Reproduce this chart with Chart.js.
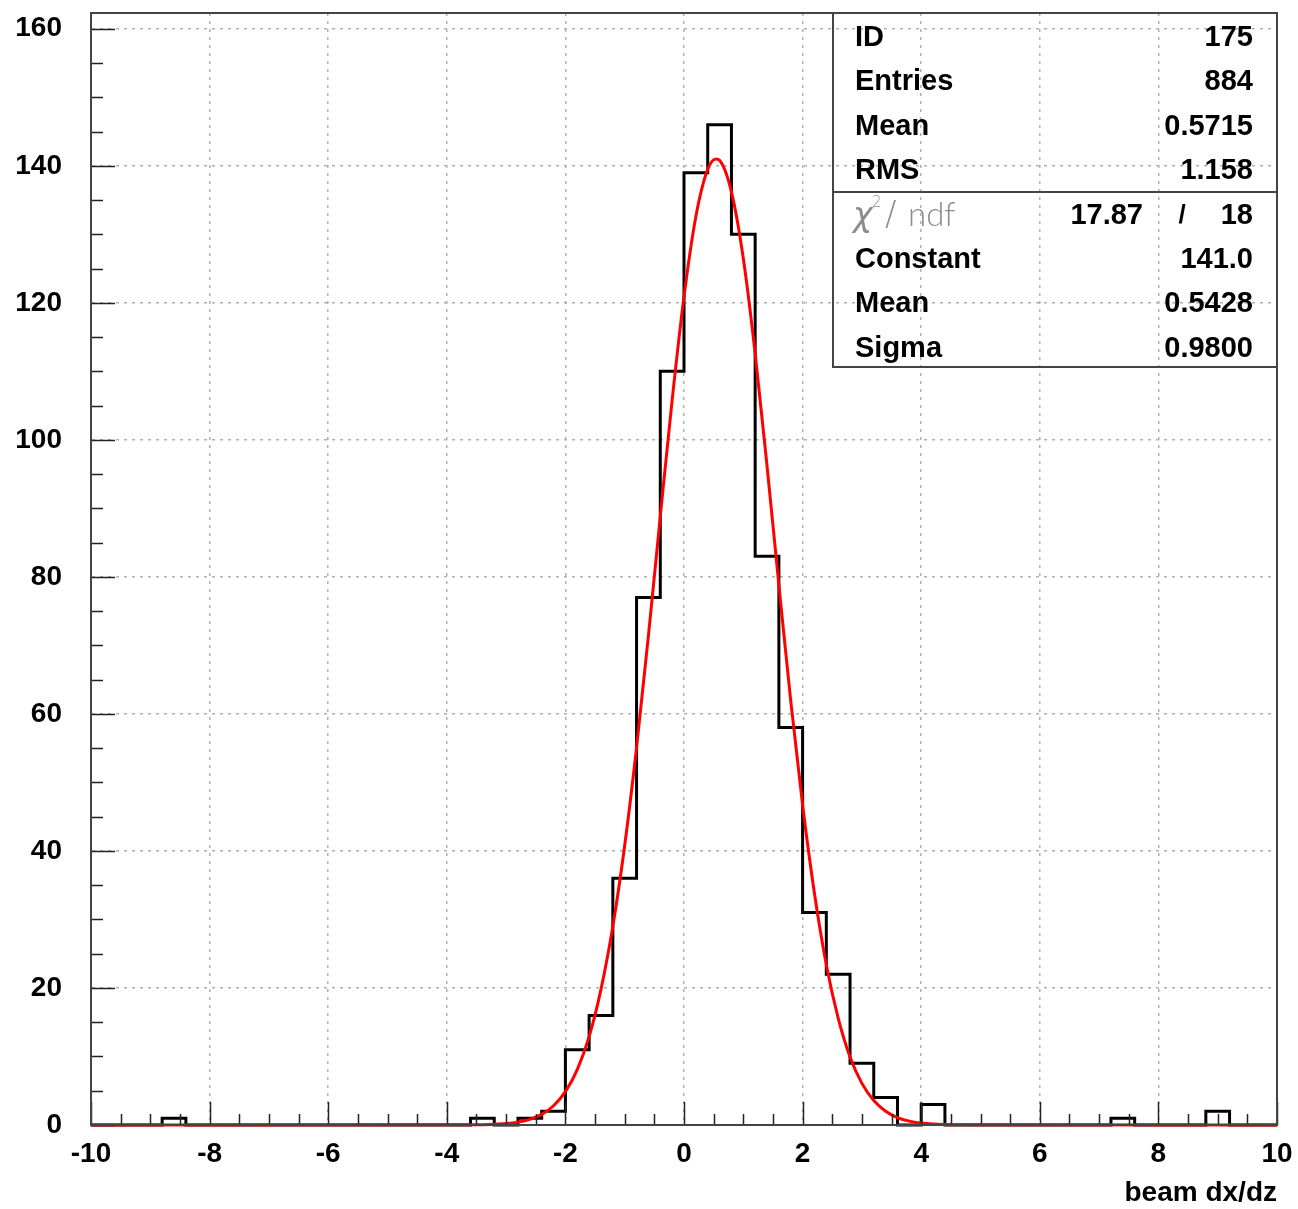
<!DOCTYPE html>
<html>
<head>
<meta charset="utf-8">
<script src="https://cdn.jsdelivr.net/npm/chart.js@4.4.0/dist/chart.umd.min.js"></script>
<style>
  html, body { margin: 0; padding: 0; background: #fff; }
  canvas { display: block; }
</style>
</head>
<body>
<canvas id="myChart" width="1298" height="1209"></canvas>
<script>
// histogram "beam dx/dz": 50 bins of 0.4 between -10 and 10
const binLow = -10;
const binWidth = 0.4;
const counts = [
    0, 0, 0, 1, 0, 0, 0, 0, 0, 0,
    0, 0, 0, 0, 0, 0, 1, 0, 1, 2,
    11, 16, 36, 77, 110, 139, 146, 130, 83, 58,
    31, 22, 9, 4, 0, 3, 0, 0, 0, 0,
    0, 0, 0, 1, 0, 0, 0, 2, 0, 0
];

// gaussian fit
const fitX = [-10, -3.4, -3.2, -3.0, -2.8, -2.6, -2.4, -2.2, -2.0, -1.8, -1.6, -1.4, -1.2, -1.0, -0.8, -0.6, -0.4, -0.2,
    0, 0.2, 0.4, 0.54, 0.6, 0.8, 1.0, 1.2, 1.4, 1.6, 1.8, 2.0, 2.2, 2.4, 2.6, 2.8, 3.0, 3.2, 3.4, 3.6, 3.8, 4.0, 4.2, 4.4, 4.6, 10];
const fitY = [0, 0.04, 0.10, 0.21, 0.42, 0.82, 1.55, 2.81, 4.87, 8.09, 12.9, 19.8, 29.0, 40.8, 55.1, 71.4, 88.8, 105.8,
    120.9, 132.6, 139.5, 141.0, 140.8, 136.2, 126.5, 112.6, 96.2, 78.8, 61.9, 46.7, 33.8, 23.4, 15.6, 9.93, 6.08, 3.57, 2.01, 1.09, 0.56, 0.28, 0.13, 0.06, 0.03, 0];

// stats box
const statNames = ["ID", "Entries", "Mean", "RMS"];
const statValues = ["175", "884", "0.5715", "1.158"];
const chi2 = "17.87";
const ndf = "18";
const fitNames = ["Constant", "Mean", "Sigma"];
const fitValues = ["141.0", "0.5428", "0.9800"];

const xMin = -10, xMax = 10;
const yMin = 0, yMax = 162.3;

const histPoints = counts.map((c, i) => ({ x: binLow + i * binWidth, y: c }));
histPoints.push({ x: xMax, y: 0 });
const fitPoints = fitX.map((x, i) => ({ x: x, y: fitY[i] }));

const FONT = '"Liberation Sans", Arial, Helvetica, sans-serif';

const rootFrame = {
    id: 'rootFrame',
    afterDraw(chart) {
        const { ctx, chartArea: a, scales: { x, y } } = chart;
        ctx.save();

        // ticks inside the frame
        ctx.strokeStyle = '#222';
        ctx.lineWidth = 1.5;
        ctx.beginPath();
        for (let k = 0; k <= 40; k++) {
            const px = Math.round(x.getPixelForValue(xMin + k * 0.5)) + 0.5;
            const len = k % 4 === 0 ? 23 : 11;
            ctx.moveTo(px, a.bottom);
            ctx.lineTo(px, a.bottom - len);
        }
        for (let k = 0; k <= 32; k++) {
            const py = Math.round(y.getPixelForValue(k * 5)) + 0.5;
            const len = k % 4 === 0 ? 24 : 12;
            ctx.moveTo(a.left, py);
            ctx.lineTo(a.left + len, py);
        }
        ctx.stroke();

        // frame
        ctx.strokeStyle = '#444';
        ctx.lineWidth = 2;
        ctx.strokeRect(a.left, a.top, a.right - a.left, a.bottom - a.top);

        // stats box
        const bx = a.right - 444, by = a.top, bw = 444, bh = 354;
        ctx.strokeStyle = '#444';
        ctx.lineWidth = 2;
        ctx.strokeRect(bx, by, bw, bh);
        ctx.beginPath();
        ctx.moveTo(bx, by + 179);
        ctx.lineTo(bx + bw, by + 179);
        ctx.stroke();

        const lx = bx + 22, rx = a.right - 24;
        const rowY = (i) => by + 25 + i * 44.4;
        ctx.fillStyle = '#000';
        ctx.font = 'bold 29px ' + FONT;
        ctx.textBaseline = 'middle';
        statNames.forEach((n, i) => {
            ctx.textAlign = 'left';
            ctx.fillText(n, lx, rowY(i));
            ctx.textAlign = 'right';
            ctx.fillText(statValues[i], rx, rowY(i));
        });
        fitNames.forEach((n, i) => {
            ctx.textAlign = 'left';
            ctx.fillText(n, lx, rowY(i + 5));
            ctx.textAlign = 'right';
            ctx.fillText(fitValues[i], rx, rowY(i + 5));
        });
        ctx.textAlign = 'right';
        ctx.fillText(chi2, bx + 310, rowY(4));
        ctx.fillText(ndf, rx, rowY(4));
        ctx.textAlign = 'center';
        ctx.font = 'bold 26px ' + FONT;
        ctx.fillText('/', bx + 349, rowY(4));

        // chi2/ndf label, thin grey
        ctx.fillStyle = '#8c8c8c';
        ctx.textAlign = 'left';
        ctx.font = 'italic 300 33px "DejaVu Sans", sans-serif';
        ctx.fillText('\u03C7', lx - 2, rowY(4) + 2);
        ctx.font = '300 15px "DejaVu Sans", sans-serif';
        ctx.fillText('2', lx + 17, rowY(4) - 12);
        ctx.font = '300 34px "DejaVu Sans", sans-serif';
        ctx.fillText('/', lx + 30, rowY(4) + 1);
        ctx.font = '300 33px "Lato", "DejaVu Sans", sans-serif';
        ctx.fillText('ndf', lx + 53, rowY(4));

        ctx.restore();
    }
};

const ctx = document.getElementById('myChart');
const chart = new Chart(ctx, {
    type: 'line',
    data: {
        datasets: [{
            label: 'fit',
            data: fitPoints,
            borderColor: '#ff0000',
            borderWidth: 3,
            pointRadius: 0,
            cubicInterpolationMode: 'monotone',
            fill: false,
            clip: false
        }, {
            label: 'histogram',
            data: histPoints,
            borderColor: '#000000',
            borderWidth: 3,
            pointRadius: 0,
            stepped: 'before',
            fill: false,
            clip: false
        }]
    },
    options: {
        responsive: false,
        animation: false,
        events: [],
        layout: { padding: { left: 0, right: 21, top: 13, bottom: 0 } },
        plugins: {
            legend: { display: false },
            tooltip: { enabled: false }
        },
        scales: {
            x: {
                type: 'linear',
                min: xMin,
                max: xMax,
                afterFit: (scale) => { scale.height = 84; scale.paddingLeft = 0; scale.paddingRight = 0; },
                ticks: {
                    stepSize: 2,
                    includeBounds: false,
                    color: '#000',
                    padding: 12,
                    maxRotation: 0,
                    font: { family: FONT, size: 28, weight: 'bold' }
                },
                grid: { color: '#b0b0b0', lineWidth: 1.5, drawTicks: false },
                border: { display: true, color: '#000', width: 2, dash: [3, 5] },
                title: {
                    display: true,
                    text: 'beam dx/dz',
                    align: 'end',
                    color: '#000',
                    padding: { top: 0, bottom: 0 },
                    font: { family: FONT, size: 28, weight: 'bold', lineHeight: 1.1 }
                }
            },
            y: {
                type: 'linear',
                min: yMin,
                max: yMax,
                afterFit: (scale) => { scale.width = 91; scale.paddingTop = 0; scale.paddingBottom = 0; },
                ticks: {
                    stepSize: 20,
                    includeBounds: false,
                    color: '#000',
                    padding: 29,
                    font: { family: FONT, size: 28, weight: 'bold' }
                },
                grid: { color: '#b0b0b0', lineWidth: 1.5, drawTicks: false },
                border: { display: true, color: '#000', width: 2, dash: [3, 5] }
            }
        }
    },
    plugins: [rootFrame]
});
</script>
</body>
</html>
